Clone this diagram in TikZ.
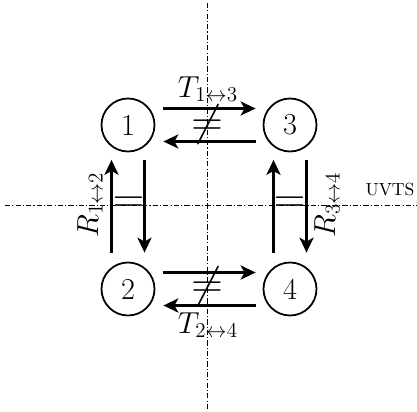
\documentclass[tikz,border=0pt]{standalone}
\usepackage{amsmath}
\usetikzlibrary{arrows.meta}

\begin{document}
\begin{tikzpicture}[x=1cm,y=1cm,
  state/.style={draw,circle,line width=1pt,minimum size=1.06cm,inner sep=0pt,font=\LARGE},
  flow/.style={line width=2pt,-{Stealth[length=8.5pt,width=8pt,inset=2.2pt]}},
  axis/.style={line width=0.5pt,dash pattern=on 3pt off 1.2pt on 0.6pt off 1.2pt},
  lab/.style={font=\LARGE,inner sep=1pt},
  sign/.style={font=\Huge,inner sep=0pt}]
  \useasboundingbox (-4.18,-4.08) rectangle (4.16,4.14);
  % symmetry axes
  \draw[axis] (-0.04,4.08)--(-0.04,-4.08);
  \draw[axis] (-4.08,0.04)--(4.16,0.04);
  \foreach \n/\x/\y in {1/-1.62/1.64,3/1.62/1.64,2/-1.62/-1.64,4/1.62/-1.64}{
    \node[state] (c\n) at (\x,\y) {\n};
  }
  % transfers between left and right
  \foreach \a/\b in {1/3,2/4}{
    \draw[flow] ([shift={(0.16,0.33)}]c\a.east) -- ([shift={(-0.14,0.33)}]c\b.west);
    \draw[flow] ([shift={(-0.14,-0.33)}]c\b.west) -- ([shift={(0.16,-0.33)}]c\a.east);
  }
  % transfers between top and bottom
  \foreach \a/\b in {1/2,3/4}{
    \draw[flow] ([shift={(-0.33,0.18)}]c\b.north) -- ([shift={(-0.33,-0.15)}]c\a.south);
    \draw[flow] ([shift={(0.33,-0.15)}]c\a.south) -- ([shift={(0.33,0.18)}]c\b.north);
  }
  \node[sign] (ne13) at (-0.04,1.65) {$\neq$};
  \node[sign] (ne24) at (-0.04,-1.6) {$\neq$};
  \node[sign] (eq12) at (-1.61,0.04) {$=$};
  \node[sign] (eq34) at (1.61,0.04) {$=$};
  \node[lab] (t13) at (-0.02,2.36) {$T_{1\leftrightarrow3}$};
  \node[lab] (t24) at (-0.02,-2.36) {$T_{2\leftrightarrow4}$};
  \node[lab,rotate=90] (r12) at (-2.38,0.04) {$R_{1\leftrightarrow2}$};
  \node[lab,rotate=90] (r34) at (2.36,0.04) {$R_{3\leftrightarrow4}$};
  \node (uvts) at (3.62,0.36) {UVTS};
\end{tikzpicture}
\end{document}
